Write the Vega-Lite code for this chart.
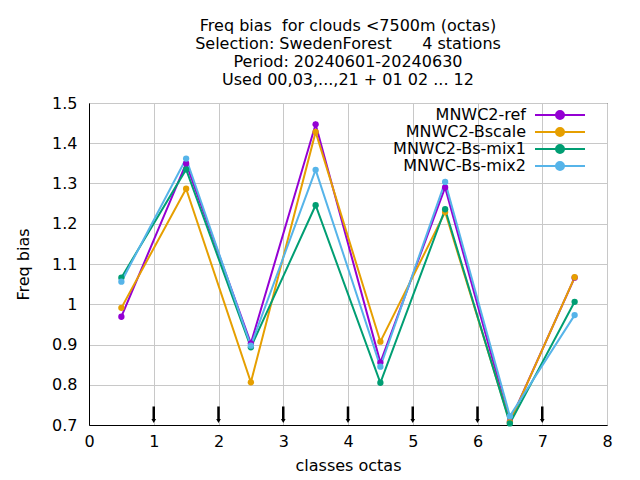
{
  "$schema": "https://vega.github.io/schema/vega-lite/v6.json",
  "width": 518,
  "height": 322,
  "autosize": {"type": "none"},
  "padding": {"left": 89, "top": 103, "right": 33, "bottom": 55},
  "background": "white",
  "config": {
    "font": "DejaVu Sans",
    "view": {"stroke": "black", "strokeWidth": 1},
    "axis": {
      "labelFont": "DejaVu Sans", "labelFontSize": 16, "labelColor": "black", "labelFlush": false,
      "titleFont": "DejaVu Sans", "titleFontSize": 16, "titleFontWeight": "normal", "titleColor": "black"
    }
  },
  "title": {
    "text": ["Freq bias \u00a0for clouds <7500m (octas)", "Selection: SwedenForest \u00a0\u00a0\u00a0\u00a0\u00a04 stations", "Period: 20240601-20240630", "Used 00,03,...,21 + 01 02 ... 12"],
    "font": "DejaVu Sans", "fontSize": 16, "fontWeight": "normal", "color": "black",
    "lineHeight": 18, "anchor": "middle", "offset": 7
  },
  "datasets": {
    "bias": [
      {"x": 0.5, "series": "MNWC2-ref", "bias": 0.969},
      {"x": 1.5, "series": "MNWC2-ref", "bias": 1.35},
      {"x": 2.5, "series": "MNWC2-ref", "bias": 0.903},
      {"x": 3.5, "series": "MNWC2-ref", "bias": 1.447},
      {"x": 4.5, "series": "MNWC2-ref", "bias": 0.855},
      {"x": 5.5, "series": "MNWC2-ref", "bias": 1.29},
      {"x": 6.5, "series": "MNWC2-ref", "bias": 0.708},
      {"x": 7.5, "series": "MNWC2-ref", "bias": 1.066},
      {"x": 0.5, "series": "MNWC2-Bscale", "bias": 0.991},
      {"x": 1.5, "series": "MNWC2-Bscale", "bias": 1.287},
      {"x": 2.5, "series": "MNWC2-Bscale", "bias": 0.806},
      {"x": 3.5, "series": "MNWC2-Bscale", "bias": 1.428},
      {"x": 4.5, "series": "MNWC2-Bscale", "bias": 0.907},
      {"x": 5.5, "series": "MNWC2-Bscale", "bias": 1.229},
      {"x": 6.5, "series": "MNWC2-Bscale", "bias": 0.707},
      {"x": 7.5, "series": "MNWC2-Bscale", "bias": 1.067},
      {"x": 0.5, "series": "MNWC2-Bs-mix1", "bias": 1.066},
      {"x": 1.5, "series": "MNWC2-Bs-mix1", "bias": 1.335},
      {"x": 2.5, "series": "MNWC2-Bs-mix1", "bias": 0.893},
      {"x": 3.5, "series": "MNWC2-Bs-mix1", "bias": 1.246},
      {"x": 4.5, "series": "MNWC2-Bs-mix1", "bias": 0.805},
      {"x": 5.5, "series": "MNWC2-Bs-mix1", "bias": 1.236},
      {"x": 6.5, "series": "MNWC2-Bs-mix1", "bias": 0.704},
      {"x": 7.5, "series": "MNWC2-Bs-mix1", "bias": 1.006},
      {"x": 0.5, "series": "MNWC-Bs-mix2", "bias": 1.056},
      {"x": 1.5, "series": "MNWC-Bs-mix2", "bias": 1.362},
      {"x": 2.5, "series": "MNWC-Bs-mix2", "bias": 0.897},
      {"x": 3.5, "series": "MNWC-Bs-mix2", "bias": 1.334},
      {"x": 4.5, "series": "MNWC-Bs-mix2", "bias": 0.845},
      {"x": 5.5, "series": "MNWC-Bs-mix2", "bias": 1.304},
      {"x": 6.5, "series": "MNWC-Bs-mix2", "bias": 0.722},
      {"x": 7.5, "series": "MNWC-Bs-mix2", "bias": 0.973}
    ],
    "arrows": [
      {"x": 1}, {"x": 2}, {"x": 3}, {"x": 4}, {"x": 5}, {"x": 6}, {"x": 7}
    ]
  },
  "layer": [
    {
      "data": {"name": "bias"},
      "mark": {"type": "line", "strokeWidth": 2},
      "encoding": {
        "x": {"field": "x", "type": "quantitative",
          "scale": {"domain": [0, 8], "nice": false, "zero": false},
          "axis": {"title": "classes octas", "tickCount": 8, "format": "d", "grid": true, "gridColor": "#c8c8c8", "gridWidth": 1, "tickColor": "transparent", "tickSize": 5, "domainColor": "black", "labelPadding": 3, "titlePadding": 8}},
        "y": {"field": "bias", "type": "quantitative",
          "scale": {"domain": [0.7, 1.5], "nice": false, "zero": false},
          "axis": {"title": "Freq bias", "tickCount": 8, "format": "~g", "grid": true, "gridColor": "#c8c8c8", "gridWidth": 1, "tickColor": "transparent", "tickSize": 5, "domainColor": "black", "labelPadding": 7, "titlePadding": 20}},
        "color": {"field": "series", "type": "nominal",
          "scale": {"domain": ["MNWC2-ref", "MNWC2-Bscale", "MNWC2-Bs-mix1", "MNWC-Bs-mix2"],
                    "range": ["#9400d3", "#e69f00", "#009e73", "#56b4e9"]},
          "legend": {
            "title": null, "orient": "none", "legendX": 463, "legendY": 4,
            "labelFont": "DejaVu Sans", "labelFontSize": 16, "labelColor": "black",
            "labelAlign": "right", "labelOffset": -42, "rowPadding": 1,
            "symbolType": "M-5,0H5M-0.8,0A0.8,0.8,0,1,1,0.8,0A0.8,0.8,0,1,1,-0.8,0Z",
            "symbolSize": 100, "symbolStrokeWidth": 2,
            "encode": {"symbols": {"update": {
              "fill": {"scale": "color", "field": "value"},
              "stroke": {"scale": "color", "field": "value"},
              "opacity": {"value": 1}}}}
          }}
      }
    },
    {
      "data": {"name": "bias"},
      "mark": {"type": "point", "filled": true, "shape": "circle", "size": 40, "opacity": 1},
      "encoding": {
        "x": {"field": "x", "type": "quantitative"},
        "y": {"field": "bias", "type": "quantitative"},
        "color": {"field": "series", "type": "nominal"}
      }
    },
    {
      "data": {"name": "arrows"},
      "mark": {"type": "rule", "color": "black", "strokeWidth": 2.5},
      "encoding": {
        "x": {"field": "x", "type": "quantitative"},
        "y": {"datum": 0.712},
        "y2": {"datum": 0.746}
      }
    },
    {
      "data": {"name": "arrows"},
      "mark": {"type": "point", "shape": "triangle-down", "filled": true, "color": "black", "size": 22, "opacity": 1},
      "encoding": {
        "x": {"field": "x", "type": "quantitative"},
        "y": {"datum": 0.71}
      }
    }
  ]
}
